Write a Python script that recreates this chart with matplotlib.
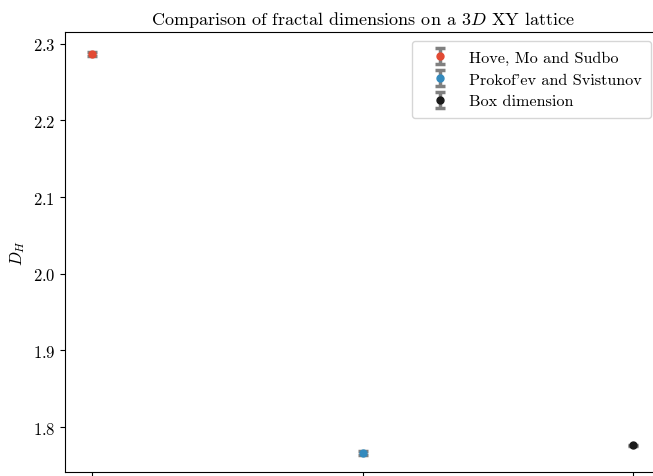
import numpy as np
import matplotlib
matplotlib.use('Agg')
import matplotlib.pyplot as plt

plt.rcParams['font.family'] = 'serif'
plt.rcParams['font.serif'] = ['cmr10']
plt.rcParams['mathtext.fontset'] = 'cm'
plt.rcParams['axes.formatter.use_mathtext'] = True
plt.rcParams['font.size'] = 12

labels = ['Hove, Mo and Sudbo', "Prokof'ev and Svistunov", 'Box dimension']
xpos = [0, 1, 2]
dims = [2.2866, 1.7657, 1.7760]
errs = [0.002, 0.0025, 0.001]
colors = ['#E24A33', '#348ABD', '#1a1a1a']

fig = plt.figure(figsize=(6.53, 4.77), dpi=100)
ax = fig.add_axes([65/653, 4/477, 595/653, 440/477])

for x, d, e, c, lab in zip(xpos, dims, errs, colors, labels):
    ax.errorbar(x, d, yerr=e, fmt='o', color=c, ecolor='grey', elinewidth=2.5,
                capsize=3.5, capthick=2.5, markersize=5, label=lab)

ax.set_xticks(xpos)
ax.set_xticklabels([])
ax.set_xlim(-0.1, 2.1)
ax.set_ylim(1.7413, 2.3153)
ax.set_ylabel('$D_H$')
ax.set_title('Comparison of fractal dimensions on a $3D$ XY lattice', fontsize=13)
ax.legend(loc='upper right', bbox_to_anchor=(0.985, 0.98), borderaxespad=0,
          fontsize=11.7, labelspacing=0.45, borderpad=0.6,
          handlelength=2.3, handletextpad=0.6)

fig.savefig('out.png', dpi=100)
